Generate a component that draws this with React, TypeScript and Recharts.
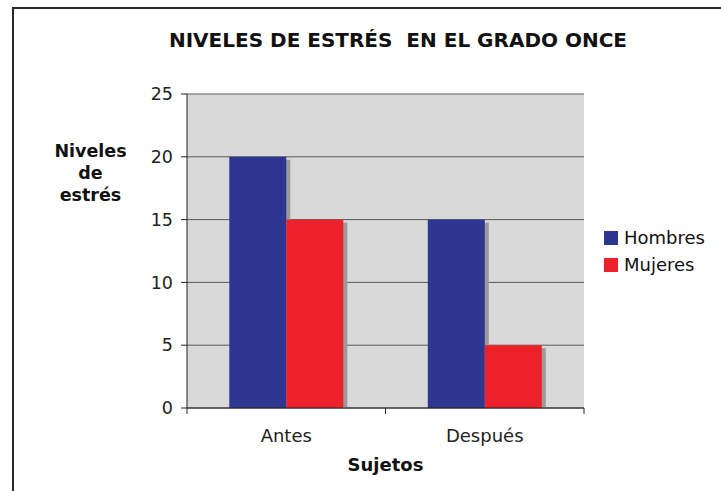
import { BarChart, Bar, XAxis, YAxis, CartesianGrid, Label } from "recharts";

// Stress levels before/after, by sex
const categories = ["Antes", "Después"];
const hombres = [20, 15];
const mujeres = [15, 5];
const yTicks = [0, 5, 10, 15, 20, 25];
const yLabelLines = ["Niveles", "de", "estrés"];
const seriesNames = ["Hombres", "Mujeres"];

const data = categories.map((c, i) => ({ name: c, Hombres: hombres[i], Mujeres: mujeres[i] }));

const FONT = "'DejaVu Sans', Verdana, sans-serif";
const BLUE = "#2d3691";
const RED = "#ed2129";
const seriesColors = [BLUE, RED];
const X_TICK_GAP = 21; // tickSize + tickMargin on the category axis

// Excel-style bar with a grey drop shadow to the lower right
const ShadowBar = (props: any) => {
  const { x, y, width, height, fill } = props;
  if (!width || !height) return null;
  return (
    <g>
      <rect x={x + 4} y={y + 3} width={width} height={Math.max(height - 3, 0)} fill="#9a9a9a" />
      <rect x={x} y={y} width={width} height={height} fill={fill} />
    </g>
  );
};

// category label plus tick marks on the band edges (Excel style)
const CatTick = (props: any) => {
  const { x, y, payload } = props;
  const half = payload?.offset ?? 0;
  const axisY = y - X_TICK_GAP;
  return (
    <g>
      <line x1={x - half} x2={x - half} y1={axisY} y2={axisY + 6} stroke="#222" />
      <line x1={x + half} x2={x + half} y1={axisY} y2={axisY + 6} stroke="#222" />
      <text x={x} y={y} dy="0.71em" textAnchor="middle" fontFamily={FONT} fontSize={18} fill="#222">
        {payload.value}
      </text>
    </g>
  );
};

const YTitle = (props: any) => {
  const vb = props.viewBox || {};
  const cx = 90.5;
  const top = (vb.y ?? 94) + 63;
  return (
    <text x={cx} y={top} textAnchor="middle" fontFamily={FONT} fontWeight="bold" fontSize={17.5} fill="#111">
      {yLabelLines.map((l, i) => (
        <tspan key={l} x={cx} y={top + i * 21.8}>
          {l}
        </tspan>
      ))}
    </text>
  );
};

export default function App() {
  return (
    <div style={{ position: "absolute", left: 0, top: 0, width: 721, height: 491, overflow: "hidden", background: "#fff" }}>
      <div
        style={{
          position: "absolute",
          left: 12,
          top: 7,
          width: 760,
          height: 520,
          borderLeft: "2px solid #2a2a2a",
          borderTop: "2px solid #2a2a2a",
        }}
      />
      <div
        style={{
          position: "absolute",
          left: 0,
          width: 796,
          top: 28,
          textAlign: "center",
          fontFamily: FONT,
          fontWeight: "bold",
          fontSize: 20,
          color: "#111",
          whiteSpace: "pre",
        }}
      >
        NIVELES DE ESTRÉS  EN EL GRADO ONCE
      </div>
      <div style={{ position: "absolute", left: 0, top: 0 }}>
        <BarChart
          width={721}
          height={491}
          data={data}
          margin={{ top: 94, right: 137, left: 0, bottom: 0 }}
          barCategoryGap="21.3%"
          barGap={0}
        >
          <CartesianGrid vertical={false} stroke="#5a5a5a" fill="#d9d9d9" fillOpacity={1} />
          <XAxis
            dataKey="name"
            height={83}
            tickLine={false}
            tickSize={6}
            tickMargin={15}
            axisLine={{ stroke: "#222" }}
            tick={<CatTick />}
          >
            <Label
              value="Sujetos"
              position="insideBottom"
              offset={20}
              style={{ fontFamily: FONT, fontWeight: "bold", fontSize: 18, fill: "#111" }}
            />
          </XAxis>
          <YAxis
            width={187}
            domain={[0, 25]}
            ticks={yTicks}
            interval={0}
            tickSize={6}
            tickMargin={8}
            axisLine={{ stroke: "#222" }}
            tickLine={{ stroke: "#222" }}
            tick={{ fontFamily: FONT, fontSize: 17.5, fill: "#222" }}
          >
            <Label content={<YTitle />} />
          </YAxis>
          <YAxis
            yAxisId="right"
            orientation="right"
            width={0}
            domain={[0, 25]}
            tick={false}
            tickLine={false}
            axisLine={{ stroke: "#8a8a8a" }}
          />
          <Bar dataKey="Hombres" fill={BLUE} shape={<ShadowBar />} isAnimationActive={false} />
          <Bar dataKey="Mujeres" fill={RED} shape={<ShadowBar />} isAnimationActive={false} />
        </BarChart>
      </div>
      <div style={{ position: "absolute", left: 604, top: 224, fontFamily: FONT, fontSize: 18, color: "#111" }}>
        {seriesNames.map((n, i) => (
          <div key={n} style={{ display: "flex", alignItems: "center", height: 27 }}>
            <span style={{ width: 14, height: 14, background: seriesColors[i], display: "inline-block", marginRight: 6 }} />
            <span>{n}</span>
          </div>
        ))}
      </div>
    </div>
  );
}
